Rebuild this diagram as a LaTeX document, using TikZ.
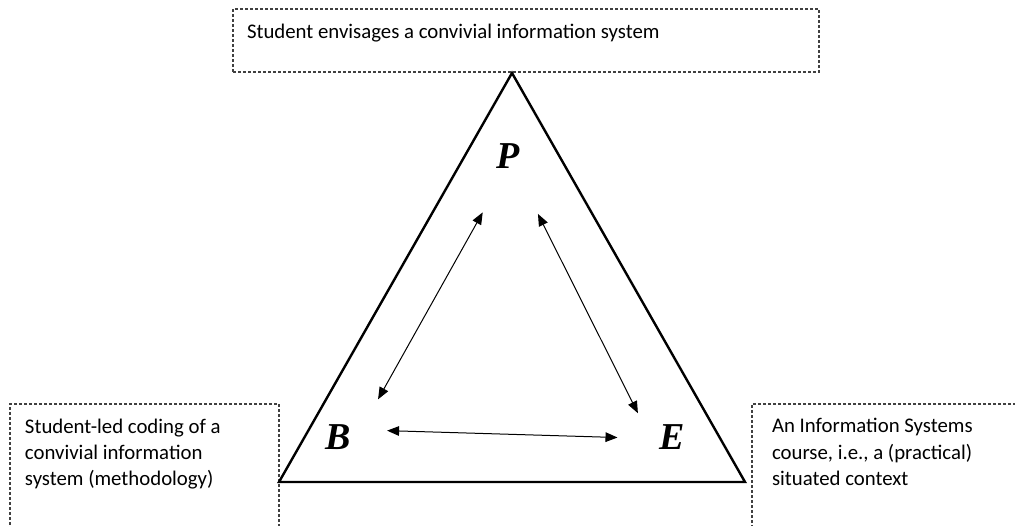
\documentclass[tikz,border=0pt]{standalone}
\usepackage{fontspec}
\setmainfont{Liberation Serif}
\newfontfamily\notefont{Carlito}
\usepackage{xcolor}
\usetikzlibrary{arrows.meta}
\definecolor{Ink}{HTML}{000000}
\definecolor{Dash}{HTML}{404040}
\newcommand\boxtext[3]{\parbox[t][#2][t]{#1}{\raggedright #3}}
\tikzset{
  note/.style={draw=Dash,line width=0.55pt,dash pattern=on 1.5pt off 1pt,anchor=north west,inner ysep=7.3pt,outer sep=0pt,font=\notefont\fontsize{10.4}{13.2}\selectfont},
  vertex/.style={circle,minimum size=55pt,inner sep=0pt,outer sep=0pt,font=\fontsize{19}{19}\selectfont\bfseries\itshape},
  frame/.style={draw=Ink,line width=1.2pt,line join=miter},
  link/.style={{Triangle[length=6pt,width=4.8pt]}-{Triangle[length=6pt,width=4.8pt]},line width=0.5pt,color=Ink}
}

\begin{document}
\begin{tikzpicture}[x=0.5pt,y=-0.5pt]
  \useasboundingbox (0,0) rectangle (1015,525);
  \clip (0,0) rectangle (1015,525);
  \fill[white] (0,0) rectangle (1015,525);
  \node[note,inner xsep=7pt] (aim) at (233,9) {\boxtext{279pt}{16.9pt}{Student envisages a convivial information system}};
  \node[note,inner xsep=7.5pt] (method) at (10,404) {\boxtext{119.5pt}{65pt}{Student-led coding of a\\convivial information\\system (methodology)}};
  \node[note,inner xsep=10pt] (context) at (752,404) {\boxtext{130pt}{65pt}{An Information Systems\\course, i.e., a (practical)\\situated context}};
  \coordinate (apex) at (512,73);
  \coordinate (left) at (279,482);
  \coordinate (right) at (745,482);
  \draw[frame] (apex) -- (left) -- (right) -- cycle;
  \node[vertex] (P) at (508.5,156) {P};
  \node[vertex] (B) at (338.5,437.5) {B};
  \node[vertex] (E) at (672.5,437.5) {E};
  \draw[link,shorten <=3.5pt] (P.246) -- (B.44);
  \draw[link,shorten <=5pt,shorten >=-7pt] (P.297) -- (E.138);
  \draw[link,shorten <=-3pt] (B.7) -- (E.180);
\end{tikzpicture}
\end{document}
